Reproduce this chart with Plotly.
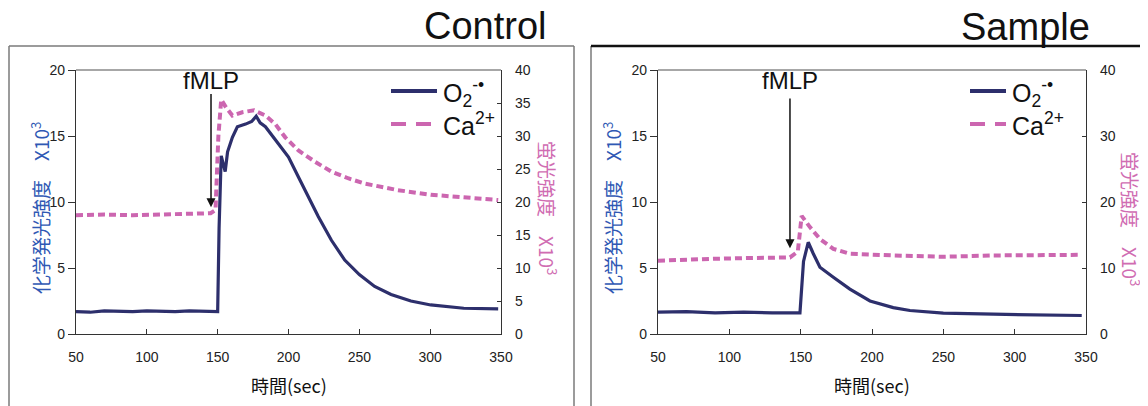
import plotly.graph_objects as go

# ---------------- data ----------------
time_ctrl_o2 = [50, 60, 70, 80, 90, 100, 110, 120, 130, 140, 150, 151, 152.5, 155.3, 157, 160.4, 163.9, 169.7, 174, 177.2,
                180, 183.7, 188, 193, 200, 207, 214, 221, 230.3, 239.7, 250, 260.8, 272.4, 286.4, 300.4, 323.7, 348]
o2_ctrl = [1.7, 1.65, 1.75, 1.7, 1.7, 1.75, 1.7, 1.7, 1.75, 1.7, 1.7, 8.0, 13.5, 12.3, 13.8, 14.9, 15.7, 15.9, 16.1, 16.5,
           16.0, 15.7, 15.1, 14.4, 13.4, 11.9, 10.4, 8.9, 7.1, 5.6, 4.5, 3.6, 3.0, 2.5, 2.2, 1.95, 1.9]

time_ctrl_ca = [50, 70, 90, 110, 130, 145, 148.5, 150.5, 152.5, 156, 160.4, 167.4, 175.6, 183.7, 190.7, 197.7, 207,
                218.7, 230.3, 242, 253.6, 277, 300.4, 323.7, 348]
ca_ctrl = [18.0, 18.1, 18.0, 18.1, 18.1, 18.3, 18.8, 30.0, 35.5, 34.3, 33.1, 33.6, 33.9, 33.1, 31.8, 29.8, 27.8,
           26.1, 24.6, 23.6, 22.8, 21.8, 21.1, 20.7, 20.3]

time_samp_o2 = [50, 70, 90, 110, 130, 149.5, 152, 155.3, 158.8, 163.5, 172.9, 184.5, 198.6, 214.9, 226.6, 250, 285, 320, 347]
o2_samp = [1.65, 1.7, 1.6, 1.65, 1.6, 1.6, 5.5, 6.95, 6.1, 5.06, 4.3, 3.4, 2.5, 2.0, 1.78, 1.58, 1.5, 1.45, 1.4]

time_samp_ca = [50, 70, 90, 110, 130, 142.5, 148, 150.7, 156.5, 163.5, 172.9, 184.5, 214.9, 250, 285, 320, 347]
ca_samp = [11.1, 11.3, 11.4, 11.5, 11.5, 11.6, 12.5, 17.9, 16.2, 14.4, 12.9, 12.15, 11.9, 11.7, 11.9, 11.9, 12.0]

panel_titles = ["Control", "Sample"]
fmlp_time = [145.3, 142.5]
x_ticks = [50, 100, 150, 200, 250, 300, 350]
left_ticks = [0, 5, 10, 15, 20]
right_ticks_ctrl = [0, 5, 10, 15, 20, 25, 30, 35, 40]
right_ticks_samp = [0, 10, 20, 30, 40]

# ---------------- style ----------------
# page body has an 8px margin: the figure is drawn 8px in from the top-left
OFF = 8
W, H = 1148 - OFF, 406 - OFF
NAVY = "#2d2f6c"
PINK = "#cc66b0"
TBLUE = "#2f58b4"
TPINK = "#d06cb2"
FONT = "Liberation Sans, Arial, Noto Sans CJK JP"
CJK = "Noto Sans CJK JP, Liberation Sans"


def px(x):
    return (x - OFF) / W


def py(y):
    return 1 - (y - OFF) / H


fig = go.Figure()

fig.add_trace(go.Scatter(x=time_ctrl_o2, y=o2_ctrl, mode="lines", line=dict(color=NAVY, width=3.2),
                         xaxis="x", yaxis="y", showlegend=False))
fig.add_trace(go.Scatter(x=time_ctrl_ca, y=ca_ctrl, mode="lines", line=dict(color=PINK, width=4, dash="7px,4px"),
                         xaxis="x", yaxis="y2", showlegend=False))
fig.add_trace(go.Scatter(x=time_samp_o2, y=o2_samp, mode="lines", line=dict(color=NAVY, width=3.2),
                         xaxis="x2", yaxis="y3", showlegend=False))
fig.add_trace(go.Scatter(x=time_samp_ca, y=ca_samp, mode="lines", line=dict(color=PINK, width=4, dash="7px,4px"),
                         xaxis="x2", yaxis="y4", showlegend=False))

ydom = [py(334), py(70)]
dom1 = [px(76), px(501)]
dom2 = [px(658), px(1086)]

axis_common = dict(showline=True, linecolor="#333", linewidth=1.3, showgrid=False, zeroline=False, automargin=False,
                   tickfont=dict(family=FONT, size=14, color="#222"), tickcolor="#333", tickwidth=1.3)

xcommon = dict(axis_common, range=[50, 350], tickvals=x_ticks, ticks="inside", ticklen=5,
               ticklabelstandoff=10)

fig.update_layout(
    width=W, height=H,
    margin=dict(l=0, r=0, t=0, b=0, autoexpand=False),
    paper_bgcolor="white", plot_bgcolor="white",
    xaxis=dict(xcommon, domain=dom1, anchor="y"),
    xaxis2=dict(xcommon, domain=dom2, anchor="y3"),
    yaxis=dict(axis_common, domain=ydom, range=[0, 20], tickvals=left_ticks, ticks="outside", ticklen=7, anchor="x"),
    yaxis2=dict(axis_common, domain=ydom, range=[0, 40], tickvals=right_ticks_ctrl, ticks="inside", ticklen=4,
                side="right", overlaying="y", anchor="x", ticklabelstandoff=10),
    yaxis3=dict(axis_common, domain=ydom, range=[0, 20], tickvals=left_ticks, ticks="outside", ticklen=7, anchor="x2"),
    yaxis4=dict(axis_common, domain=ydom, range=[0, 40], tickvals=right_ticks_samp, ticks="inside", ticklen=4,
                side="right", overlaying="y3", anchor="x2", ticklabelstandoff=10),
)

shapes = []
# panel frames
GRAY = "#7a7a7a"
shapes.append(dict(type="line", xref="paper", yref="paper", x0=px(9), x1=px(9), y0=py(46), y1=-0.05,
                   line=dict(color=GRAY, width=1.5)))
shapes.append(dict(type="line", xref="paper", yref="paper", x0=px(574), x1=px(574), y0=py(46), y1=-0.05,
                   line=dict(color=GRAY, width=1.5)))
shapes.append(dict(type="line", xref="paper", yref="paper", x0=px(9), x1=px(574), y0=py(46), y1=py(46),
                   line=dict(color=GRAY, width=1.5)))
shapes.append(dict(type="line", xref="paper", yref="paper", x0=px(591), x1=px(591), y0=py(46), y1=-0.05,
                   line=dict(color=GRAY, width=1.5)))
shapes.append(dict(type="line", xref="paper", yref="paper", x0=px(591), x1=1.05, y0=py(46), y1=py(46),
                   line=dict(color="#111", width=2.5)))
# plot top borders
for d in (dom1, dom2):
    shapes.append(dict(type="line", xref="paper", yref="paper", x0=d[0], x1=d[1], y0=ydom[1], y1=ydom[1],
                       line=dict(color="#8a8a8a", width=1.3)))

annotations = []
# legends
legend_pos = [(391, 437, 441), (970, 1006, 1010)]
for (lx0, lx1, tx) in legend_pos:
    shapes.append(dict(type="line", xref="paper", yref="paper", x0=px(lx0), x1=px(lx1), y0=py(91), y1=py(91),
                       line=dict(color=NAVY, width=4)))
    shapes.append(dict(type="line", xref="paper", yref="paper", x0=px(lx0), x1=px(lx1), y0=py(124), y1=py(124),
                       line=dict(color=PINK, width=4, dash="15px,10px")))
    annotations.append(dict(xref="paper", yref="paper", x=px(tx), y=py(93), xanchor="left", yanchor="middle",
                            text="O<sub>2</sub><sup>-•</sup>", showarrow=False,
                            font=dict(family=FONT, size=25, color="#111")))
    annotations.append(dict(xref="paper", yref="paper", x=px(tx), y=py(124), xanchor="left", yanchor="middle",
                            text="Ca<sup>2+</sup>", showarrow=False,
                            font=dict(family=FONT, size=25, color="#111")))

# panel titles
annotations.append(dict(xref="paper", yref="paper", x=px(549), y=py(26), xanchor="right", yanchor="middle",
                        text=panel_titles[0], showarrow=False, font=dict(family=FONT, size=38, color="#111")))
annotations.append(dict(xref="paper", yref="paper", x=px(1092), y=py(27), xanchor="right", yanchor="middle",
                        text=panel_titles[1], showarrow=False, font=dict(family=FONT, size=38, color="#111")))

# fMLP arrows
for i, (xa, ya) in enumerate([("x", "y"), ("x2", "y3")]):
    tip = [9.6, 6.5][i]
    tail = [18.3, 17.95][i]
    annotations.append(dict(xref=xa, yref=ya, x=fmlp_time[i], y=tip, ax=fmlp_time[i], ay=tail,
                            axref=xa, ayref=ya, text="", showarrow=True, arrowhead=2, arrowsize=1.2,
                            arrowwidth=1.5, arrowcolor="#111"))
    annotations.append(dict(xref=xa, yref="paper", x=fmlp_time[i], y=py(80), xanchor="center", yanchor="middle",
                            text="fMLP", showarrow=False, font=dict(family=FONT, size=24, color="#111")))

# axis titles
for cx in (288.5, 872):
    annotations.append(dict(xref="paper", yref="paper", x=px(cx), y=py(385), xanchor="center", yanchor="middle",
                            text="時間(sec)", showarrow=False, font=dict(family=CJK, size=18, color="#111")))
for lx in (40, 612):
    annotations.append(dict(xref="paper", yref="paper", x=px(lx), y=py(208), xanchor="center", yanchor="middle",
                            text="化学発光強度　X10<sup>3</sup>", textangle=-90, showarrow=False,
                            font=dict(family=CJK, size=19, color=TBLUE)))
for rx, ry in ((548, 208), (1131, 219)):
    annotations.append(dict(xref="paper", yref="paper", x=px(rx), y=py(ry), xanchor="center", yanchor="middle",
                            text="蛍光強度　X10<sup>3</sup>", textangle=90, showarrow=False,
                            font=dict(family=CJK, size=19, color=TPINK)))

fig.update_layout(shapes=shapes, annotations=annotations)
fig.write_html("out.html")
